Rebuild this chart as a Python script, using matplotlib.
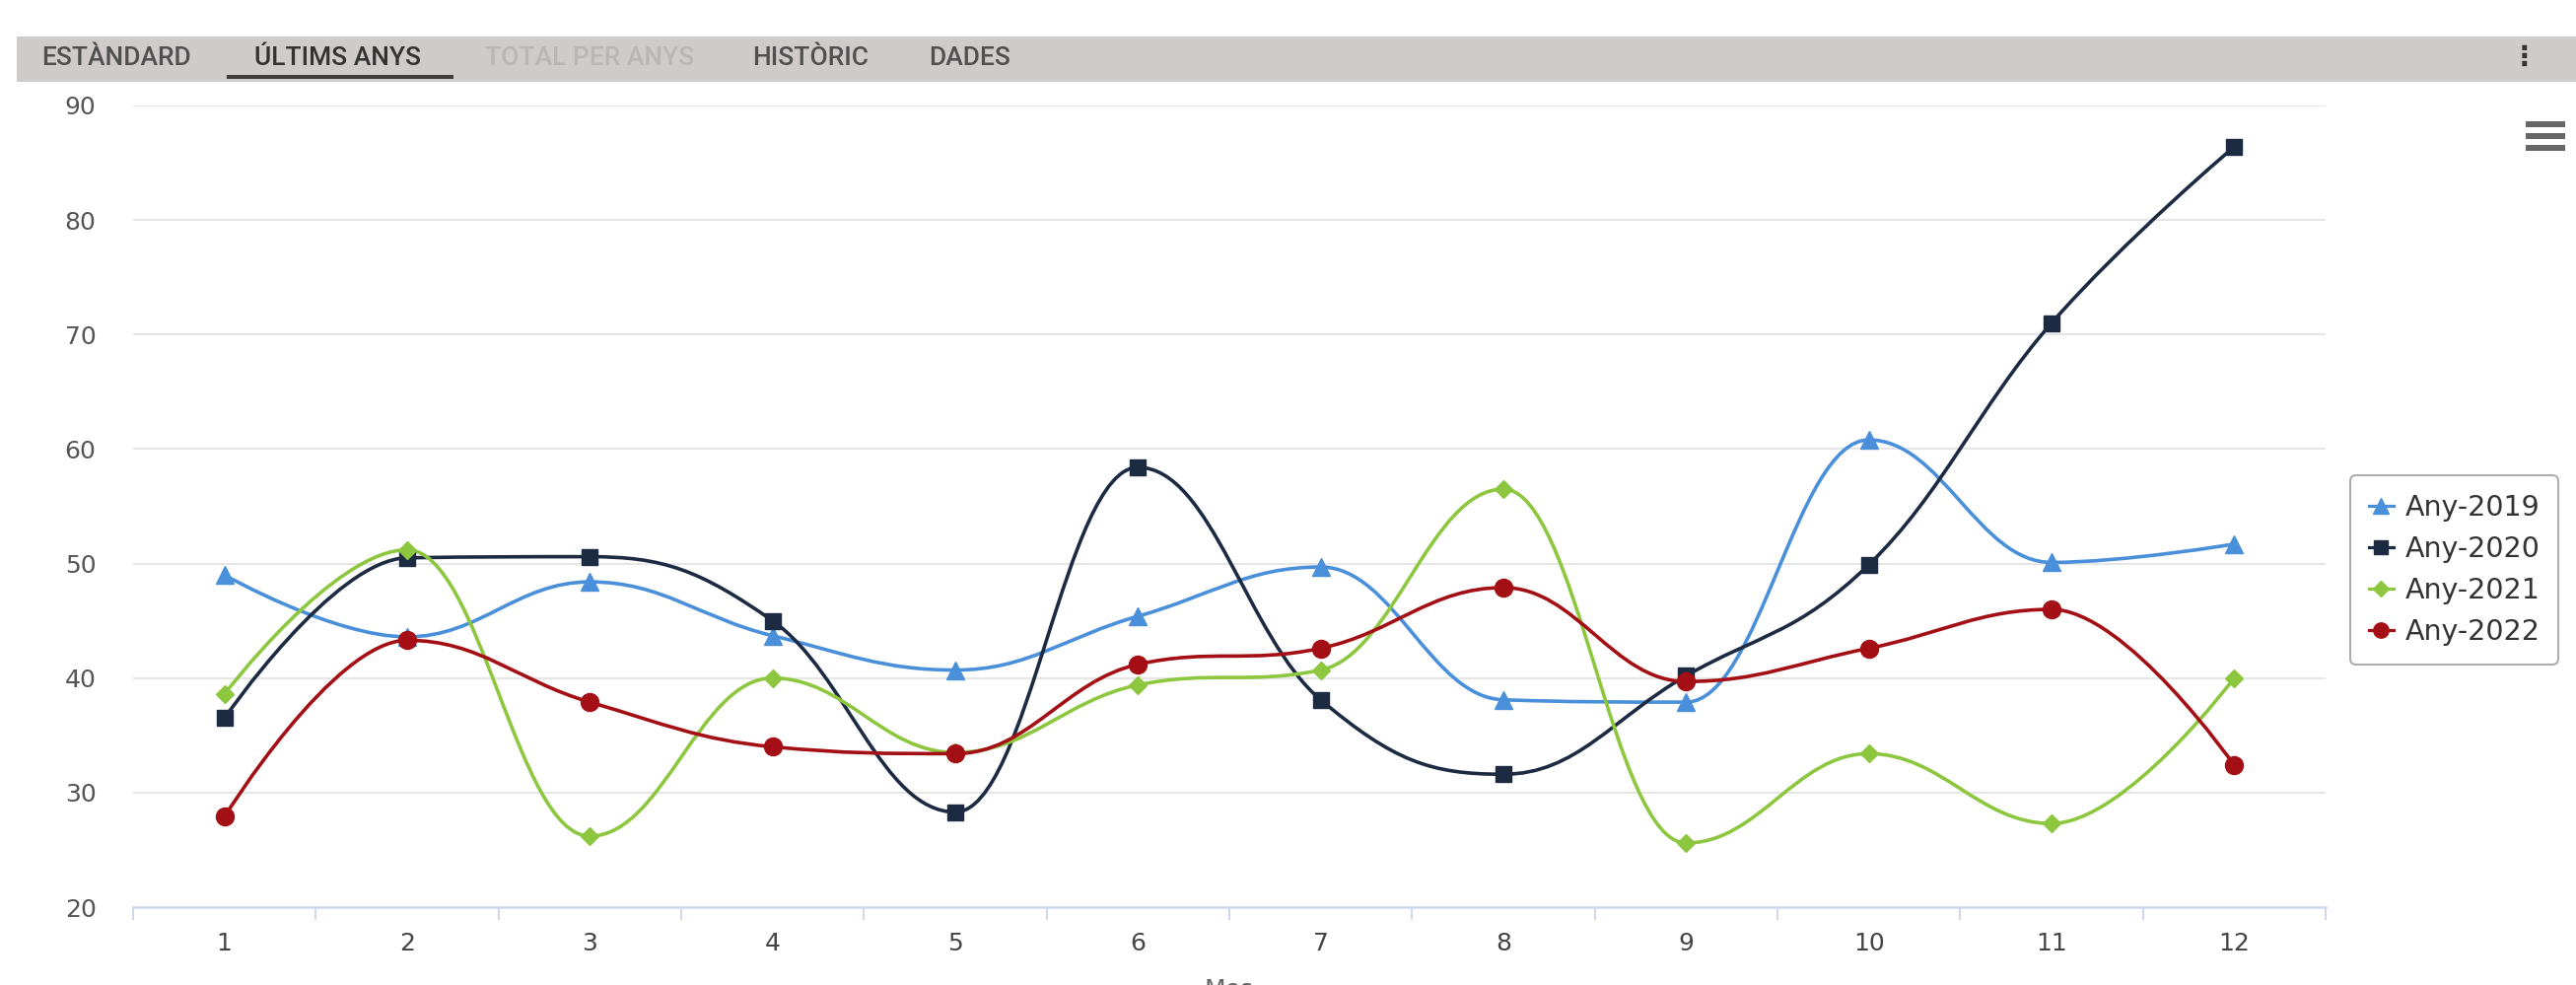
import numpy as np
import matplotlib
matplotlib.use("Agg")
import matplotlib.pyplot as plt
from matplotlib.path import Path
from matplotlib.patches import PathPatch, Rectangle
from matplotlib.lines import Line2D

# dades llegides del grafic
mesos = np.arange(1, 13)
any_2019 = [49.0, 43.6, 48.4, 43.7, 40.7, 45.4, 49.7, 38.1, 37.9, 60.8, 50.1, 51.7]
any_2020 = [36.5, 50.5, 50.6, 45.0, 28.3, 58.4, 38.1, 31.6, 40.2, 49.9, 71.0, 86.4]
any_2021 = [38.6, 51.2, 26.2, 40.0, 33.5, 39.4, 40.7, 56.5, 25.6, 33.4, 27.3, 40.0]
any_2022 = [27.9, 43.3, 37.9, 34.0, 33.4, 41.2, 42.6, 47.9, 39.7, 42.6, 46.0, 32.4]

series = [
    ("Any-2019", any_2019, "#4a8fd9", "^", 13),
    ("Any-2020", any_2020, "#1c2b42", "s", 12),
    ("Any-2021", any_2021, "#8dc63f", "D", 9),
    ("Any-2022", any_2022, "#a30f14", "o", 13),
]

W, H = 2613, 999


def px(x, y):
    # pixels (des de dalt a l'esquerra) -> coordenades de figura
    return x / W, 1 - y / H


def spline_hc(xs, ys, smoothing=1.5):
    # corba tipus "spline" de Highcharts amb beziers cubics
    d = smoothing + 1
    n = len(xs)
    verts = [(xs[0], ys[0])]
    codes = [Path.MOVETO]
    right = [None] * n
    for i in range(1, n):
        x0, y0 = xs[i], ys[i]
        lcx, lcy = x0, y0
        if i < n - 1:
            lx, ly = xs[i - 1], ys[i - 1]
            nx, ny = xs[i + 1], ys[i + 1]
            lcx = (smoothing * x0 + lx) / d
            lcy = (smoothing * y0 + ly) / d
            rcx = (smoothing * x0 + nx) / d
            rcy = (smoothing * y0 + ny) / d
            corr = (rcy - lcy) * (rcx - x0) / (rcx - lcx) + y0 - rcy
            lcy += corr
            rcy += corr
            if lcy > ly and lcy > y0:
                lcy = max(ly, y0); rcy = 2 * y0 - lcy
            elif lcy < ly and lcy < y0:
                lcy = min(ly, y0); rcy = 2 * y0 - lcy
            if rcy > ny and rcy > y0:
                rcy = max(ny, y0); lcy = 2 * y0 - rcy
            elif rcy < ny and rcy < y0:
                rcy = min(ny, y0); lcy = 2 * y0 - rcy
            right[i] = (rcx, rcy)
        c1 = right[i - 1] if right[i - 1] is not None else (xs[i - 1], ys[i - 1])
        verts += [c1, (lcx, lcy), (x0, y0)]
        codes += [Path.CURVE4] * 3
    return Path(verts, codes)


fig = plt.figure(figsize=(W / 100, H / 100), dpi=100)
fig.patch.set_facecolor("white")

# barra de pestanyes
x0, y0 = px(17, 83)
fig.add_artist(Rectangle((x0, y0), 1 - x0, (83 - 37) / H, transform=fig.transFigure,
                         facecolor="#d0cbcb", edgecolor="none"))
tabs = [("ESTÀNDARD", 42, "#505050"), ("ÚLTIMS ANYS", 258, "#333333"),
        ("TOTAL PER ANYS", 492, "#b9b6b6"), ("HISTÒRIC", 763, "#505050"),
        ("DADES", 942, "#505050")]
for txt, xl, col in tabs:
    tx, ty = px(xl, 59)
    fig.text(tx, ty, txt, fontsize=19, family="Roboto", fontweight="medium",
             color=col, va="center", ha="left")
ux, uy = px(230, 80)
fig.add_artist(Rectangle((ux, uy), 230 / W, 4 / H, transform=fig.transFigure,
                         facecolor="#3d3d3d", edgecolor="none"))
tx, ty = px(2560, 58)
fig.text(tx, ty, "⋮", fontsize=20, color="#333333", ha="center", va="center", fontweight="bold")

# icona menu
for yb in (123, 135, 147):
    bx, by = px(2562, yb + 6)
    fig.add_artist(Rectangle((bx, by), 40 / W, 6 / H, transform=fig.transFigure,
                             facecolor="#666666", edgecolor="none"))

# eixos
l, r, t, b = 135, 2359, 107, 920
ax = fig.add_axes([l / W, (H - b) / H, (r - l) / W, (b - t) / H])
ax.set_xlim(0.5, 12.5)
ax.set_ylim(20, 90)

ax.set_yticks(np.arange(20, 91, 10))
ax.set_xticks(mesos)
ax.set_xticks(np.arange(0.5, 12.6, 1), minor=True)
for yv in range(30, 91, 10):
    ax.axhline(yv, color="#e6e6e6", lw=1.5, zorder=0)

for s in ("top", "right", "left"):
    ax.spines[s].set_visible(False)
ax.spines["bottom"].set_color("#ccd6eb")
ax.spines["bottom"].set_linewidth(1.8)

ax.tick_params(axis="y", length=0, pad=27, labelsize=18, labelcolor="#555555")
ax.tick_params(axis="x", which="major", length=0, pad=18, labelsize=18, labelcolor="#444444")
ax.tick_params(axis="x", which="minor", length=9, width=1.3, color="#ccd6eb")

handles = []
for nom, vals, col, mk, ms in series:
    path = spline_hc(list(mesos.astype(float)), vals)
    ax.add_patch(PathPatch(path, facecolor="none", edgecolor=col, lw=2.6, zorder=3))
    ax.plot(mesos, vals, linestyle="none", marker=mk, ms=ms, color=col, zorder=4)
    handles.append(Line2D([], [], color=col, lw=2.3, marker=mk, ms=ms * 0.85))

lx, ly = px(2384, 578)
leg = fig.legend(handles, [h[0] for h in series], loc="center left", bbox_to_anchor=(lx, ly),
                 bbox_transform=fig.transFigure, fontsize=20.5, frameon=True, fancybox=True,
                 handlelength=0.9, handletextpad=0.4, labelspacing=0.5, borderpad=0.65,
                 borderaxespad=0, edgecolor="#999999")
leg.get_frame().set_linewidth(1.5)
for txt in leg.get_texts():
    txt.set_color("#333333")

# titol de l'eix retallat a baix
mx, my = px((l + r) / 2, 992)
fig.text(mx, my, "Mes", fontsize=18, color="#666666", ha="center", va="top")

fig.savefig("out.png", dpi=100)
